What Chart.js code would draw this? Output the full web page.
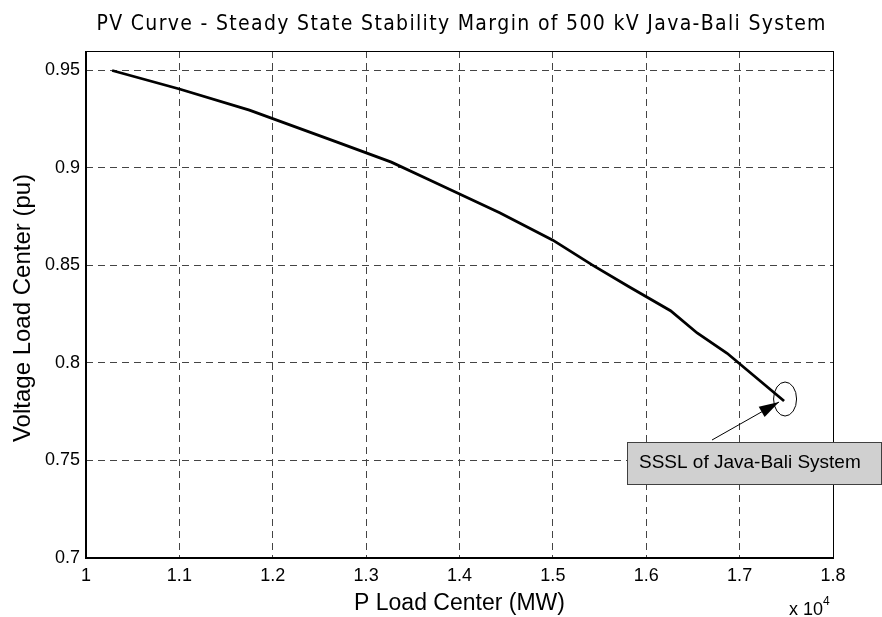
<!DOCTYPE html>
<html>
<head>
<meta charset="utf-8">
<script src="https://cdn.jsdelivr.net/npm/chart.js@4.4.0/dist/chart.umd.min.js"></script>
<style>
    html, body { margin: 0; padding: 0; background: #ffffff; }
    #wrap { width: 882px; height: 617px; position: relative; }
</style>
</head>
<body>
<div id="wrap"><canvas id="pv-chart" width="882" height="617"></canvas></div>
<script>
// P load center (MW) and voltage at load center (pu)
const pLoad = [10280, 11000, 11750, 12660, 13270, 13680, 14430, 15000, 15420, 15820, 16260, 16545, 16866, 17476];
const vLoad = [0.950, 0.9405, 0.9297, 0.9138, 0.903, 0.8938, 0.877, 0.863, 0.8503, 0.839, 0.8268, 0.8154, 0.805, 0.7805];

// Tick labels
const xTicks = [10000, 11000, 12000, 13000, 14000, 15000, 16000, 17000, 18000];
const yTicks = [0.7, 0.75, 0.8, 0.85, 0.9, 0.95];

// Texts
const titleText = 'PV Curve - Steady State Stability Margin of 500 kV Java-Bali System';
const xLabel = 'P Load Center (MW)';
const yLabel = 'Voltage Load Center (pu)';
const noteText = 'SSSL of Java-Bali System';

const SANS = '"Liberation Sans", Arial, sans-serif';
const tickFont = { family: SANS, size: 18 };

/**
 * Draw text spread out to a given total width (title font is looser than DejaVu)
 */
function spacedText(ctx, text, cx, y, targetWidth) {
    const chars = [...text];
    const widths = chars.map(c => ctx.measureText(c).width);
    const natural = widths.reduce((a, b) => a + b, 0);
    const gap = (targetWidth - natural) / (chars.length - 1);
    let x = cx - targetWidth / 2;
    ctx.textAlign = 'left';
    chars.forEach((c, i) => {
        ctx.fillText(c, x, y);
        x += widths[i] + gap;
    });
}

/**
 * Draws frame, title, axis labels, exponent and the SSSL annotation
 */
const decorPlugin = {
    id: 'decor',
    afterDraw(chart) {
        const ctx = chart.ctx;
        const area = chart.chartArea;
        const xs = chart.scales.x;
        const ys = chart.scales.y;
        ctx.save();

        // Axes box
        ctx.strokeStyle = '#000';
        ctx.lineWidth = 1;
        ctx.strokeRect(area.left + 0.5, area.top + 0.5, area.right - area.left, area.bottom - area.top);
        ctx.lineWidth = 2;
        ctx.beginPath();
        ctx.moveTo(area.left, area.top);
        ctx.lineTo(area.left, area.bottom);
        ctx.lineTo(area.right, area.bottom);
        ctx.stroke();

        // Title
        ctx.fillStyle = '#000';
        ctx.textBaseline = 'middle';
        ctx.font = '21px "DejaVu Sans Condensed", "DejaVu Sans", sans-serif';
        spacedText(ctx, titleText, 461, 25, 729);

        // Axis labels
        ctx.textAlign = 'center';
        ctx.font = '23px ' + SANS;
        ctx.fillText(xLabel, (area.left + area.right) / 2, 604);
        ctx.save();
        ctx.translate(23, 308);
        ctx.rotate(-Math.PI / 2);
        ctx.font = '24px ' + SANS;
        ctx.fillText(yLabel, 0, 0);
        ctx.restore();

        // x 10^4
        ctx.textAlign = 'left';
        ctx.font = '18px ' + SANS;
        ctx.fillText('x 10', 789, 610);
        ctx.font = '12px ' + SANS;
        ctx.fillText('4', 823, 602);

        // Ellipse around the last point
        const last = pLoad.length - 1;
        const ex = xs.getPixelForValue(pLoad[last]);
        const ey = ys.getPixelForValue(vLoad[last]);
        ctx.lineWidth = 1;
        ctx.beginPath();
        ctx.ellipse(ex + 1, ey - 2, 11.5, 17, 0, 0, Math.PI * 2);
        ctx.stroke();

        // Arrow from text box to the point
        const ax = 712, ay = 440;
        const tx = ex - 5, ty = ey + 1;
        const ang = Math.atan2(ty - ay, tx - ax);
        ctx.beginPath();
        ctx.moveTo(ax, ay);
        ctx.lineTo(tx, ty);
        ctx.stroke();
        ctx.beginPath();
        ctx.moveTo(tx, ty);
        ctx.lineTo(tx - 20 * Math.cos(ang) + 6 * Math.sin(ang), ty - 20 * Math.sin(ang) - 6 * Math.cos(ang));
        ctx.lineTo(tx - 20 * Math.cos(ang) - 6 * Math.sin(ang), ty - 20 * Math.sin(ang) + 6 * Math.cos(ang));
        ctx.closePath();
        ctx.fill();

        // Text box
        ctx.fillStyle = '#d0d0d0';
        ctx.fillRect(627, 442, 254, 42);
        ctx.strokeStyle = '#404040';
        ctx.strokeRect(627.5, 442.5, 254, 42);
        ctx.fillStyle = '#000';
        ctx.font = '19px ' + SANS;
        ctx.textBaseline = 'middle';
        ctx.fillText(noteText, 639, 463);

        ctx.restore();
    }
};

const ctx = document.getElementById('pv-chart').getContext('2d');

new Chart(ctx, {
    type: 'line',
    data: {
        datasets: [{
            data: pLoad.map((p, i) => ({ x: p, y: vLoad[i] })),
            borderColor: '#000',
            borderWidth: 2.8,
            pointRadius: 0,
            tension: 0,
            fill: false
        }]
    },
    options: {
        responsive: false,
        animation: false,
        layout: { padding: { left: 0, right: 49, top: 51, bottom: 0 } },
        plugins: {
            legend: { display: false },
            tooltip: { enabled: false },
            title: { display: false }
        },
        scales: {
            x: {
                type: 'linear',
                min: 10000,
                max: 18000,
                afterBuildTicks: scale => { scale.ticks = xTicks.map(v => ({ value: v })); },
                afterFit: scale => { scale.height = 59; },
                grid: {
                    color: '#444',
                    lineWidth: 1,
                    drawTicks: false
                },
                border: { display: false, dash: [7, 5] },
                ticks: {
                    color: '#000',
                    font: tickFont,
                    padding: 7,
                    maxRotation: 0,
                    autoSkip: false,
                    callback: v => String(+(v / 10000).toFixed(1))
                }
            },
            y: {
                type: 'linear',
                min: 0.7,
                max: 0.96,
                afterBuildTicks: scale => { scale.ticks = yTicks.map(v => ({ value: v })); },
                afterFit: scale => { scale.width = 86; },
                grid: {
                    color: '#444',
                    lineWidth: 1,
                    drawTicks: false
                },
                border: { display: false, dash: [7, 5] },
                ticks: {
                    color: '#000',
                    font: tickFont,
                    padding: 6,
                    autoSkip: false,
                    callback: v => String(+v.toFixed(2))
                }
            }
        }
    },
    plugins: [decorPlugin]
});
</script>
</body>
</html>
